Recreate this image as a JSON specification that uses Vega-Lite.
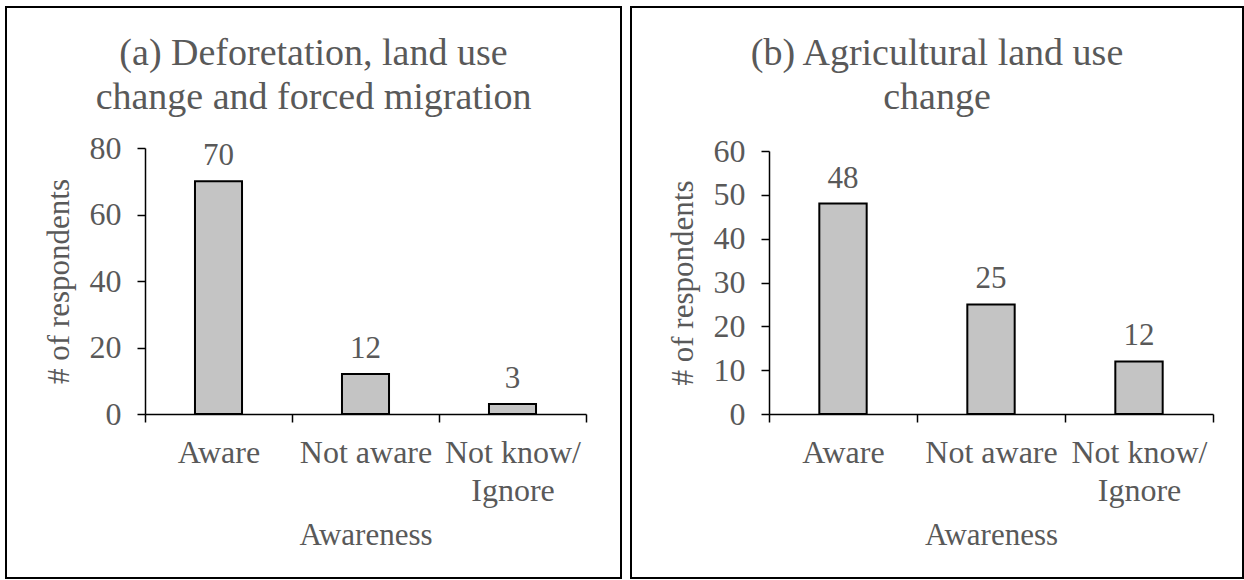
{
  "$schema": "https://vega.github.io/schema/vega-lite/v6.json",
  "padding": {"left": 5, "top": 6, "right": 0, "bottom": 0},
  "background": "white",
  "spacing": 8,
  "config": {
    "font": "Liberation Serif",
    "view": {"stroke": "black", "strokeWidth": 2},
    "axis": {
      "grid": false,
      "domainColor": "black",
      "domainWidth": 1.5,
      "tickColor": "black",
      "tickWidth": 1.5,
      "tickSize": 8,
      "labelColor": "#595959",
      "labelFontSize": 32,
      "labelFont": "Liberation Serif",
      "titleColor": "#595959",
      "titleFontSize": 31,
      "titleFont": "Liberation Serif",
      "titleFontWeight": "normal"
    },
    "title": {
      "font": "Liberation Serif",
      "fontSize": 38,
      "fontWeight": "normal",
      "color": "#595959",
      "lineHeight": 44,
      "anchor": "middle",
      "frame": "group"
    }
  },
  "hconcat": [
    {
      "width": 615,
      "height": 571,
      "title": {"text": ["(a) Deforetation, land use", "change and forced migration"], "offset": -110},
      "data": {"values": [
        {"awareness": "Aware", "count": 70},
        {"awareness": "Not aware", "count": 12},
        {"awareness": "Not know/ Ignore", "count": 3}
      ]},
      "encoding": {
        "x": {
          "field": "awareness", "type": "nominal", "sort": null,
          "scale": {"range": [139, 580], "paddingInner": 0, "paddingOuter": 0},
          "axis": {"title": "Awareness", "offset": -164, "tickBand": "extent", "labelAngle": 0, "labelPadding": 15, "labelLineHeight": 38, "titlePadding": 14,
                   "labelExpr": "datum.label == 'Not know/ Ignore' ? ['Not know/', 'Ignore'] : datum.label"}
        },
        "y": {
          "field": "count", "type": "quantitative",
          "scale": {"domain": [0, 80], "range": [407, 141], "nice": false},
          "axis": {"title": "# of respondents", "values": [0, 20, 40, 60, 80], "offset": -139, "labelPadding": 16, "titlePadding": 14}
        }
      },
      "layer": [
        {"mark": {"type": "bar", "fill": "#c4c4c4", "stroke": "black", "strokeWidth": 2, "width": {"band": 0.32}}},
        {"mark": {"type": "text", "dy": -25, "fontSize": 31, "color": "#595959", "font": "Liberation Serif"},
         "encoding": {"text": {"field": "count", "type": "quantitative"}}}
      ]
    },
    {
      "width": 612,
      "height": 571,
      "title": {"text": ["(b) Agricultural land use", "change"], "offset": -110},
      "data": {"values": [
        {"awareness": "Aware", "count": 48},
        {"awareness": "Not aware", "count": 25},
        {"awareness": "Not know/ Ignore", "count": 12}
      ]},
      "encoding": {
        "x": {
          "field": "awareness", "type": "nominal", "sort": null,
          "scale": {"range": [138, 582], "paddingInner": 0, "paddingOuter": 0},
          "axis": {"title": "Awareness", "offset": -164, "tickBand": "extent", "labelAngle": 0, "labelPadding": 15, "labelLineHeight": 38, "titlePadding": 14,
                   "labelExpr": "datum.label == 'Not know/ Ignore' ? ['Not know/', 'Ignore'] : datum.label"}
        },
        "y": {
          "field": "count", "type": "quantitative",
          "scale": {"domain": [0, 60], "range": [407, 144], "nice": false},
          "axis": {"title": "# of respondents", "values": [0, 10, 20, 30, 40, 50, 60], "offset": -138, "labelPadding": 16, "titlePadding": 14}
        }
      },
      "layer": [
        {"mark": {"type": "bar", "fill": "#c4c4c4", "stroke": "black", "strokeWidth": 2, "width": {"band": 0.32}}},
        {"mark": {"type": "text", "dy": -25, "fontSize": 31, "color": "#595959", "font": "Liberation Serif"},
         "encoding": {"text": {"field": "count", "type": "quantitative"}}}
      ]
    }
  ]
}
